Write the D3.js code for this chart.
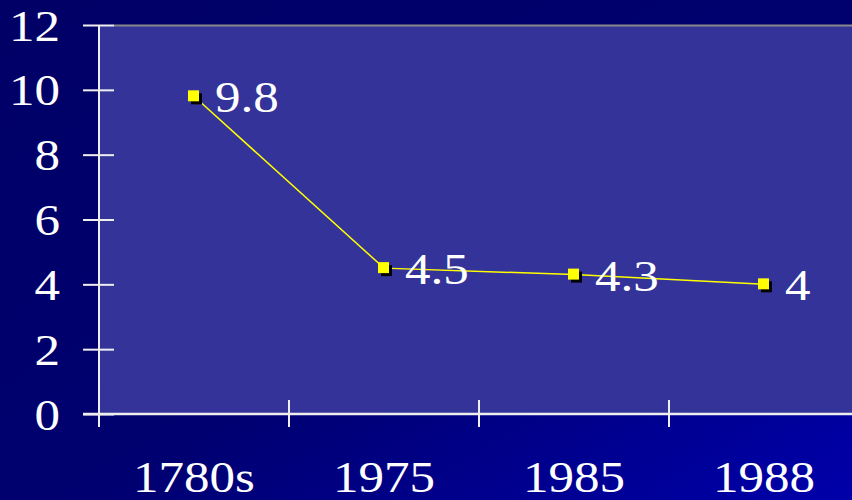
<!DOCTYPE html>
<html>
<head>
<meta charset="utf-8">
<script src="https://cdn.jsdelivr.net/npm/d3@7"></script>
<style>
  body { margin: 0; background: #000066; }
  svg { display: block; }
  text { font-family: "Liberation Serif", "Times New Roman", serif; fill: #fff; }
</style>
</head>
<body>
<script>
// chart data
const categories = ['1780s', '1975', '1985', '1988']
const values = [9.8, 4.5, 4.3, 4]
const valueLabels = ['9.8', '4.5', '4.3', '4']
const yTicks = [0, 2, 4, 6, 8, 10, 12]

const width = 852
const height = 500
const margin = { top: 25, right: -7, bottom: 86, left: 99 }
const innerW = width - margin.left - margin.right
const innerH = height - margin.top - margin.bottom
const stretch = 1.16 // text in the original is a bit wide

const svg = d3.select('body')
  .append('svg')
  .attr('width', width)
  .attr('height', height)

const defs = svg.append('defs')
const grad = defs.append('linearGradient')
  .attr('id', 'bg')
  .attr('x1', '0').attr('y1', '0')
  .attr('x2', '1').attr('y2', '1')
grad.append('stop').attr('offset', '0').attr('stop-color', '#000066')
grad.append('stop').attr('offset', '0.55').attr('stop-color', '#000070')
grad.append('stop').attr('offset', '1').attr('stop-color', '#0000aa')

svg.append('rect')
  .attr('width', width)
  .attr('height', height)
  .attr('fill', 'url(#bg)')

const chart = svg.append('g')
  .attr('transform', `translate(${margin.left}, ${margin.top})`)

const x = d3.scaleBand()
  .domain(categories)
  .range([0, innerW])

const y = d3.scaleLinear()
  .domain([0, 12])
  .range([innerH, 0])

// plot area
chart.append('rect')
  .attr('width', innerW)
  .attr('height', innerH)
  .attr('fill', '#333399')

chart.append('line')
  .attr('x1', 15).attr('x2', innerW)
  .attr('y1', 0.5).attr('y2', 0.5)
  .attr('stroke', '#888888')
  .attr('stroke-width', 2)

// y axis
const yAxis = chart.append('g')
  .call(d3.axisLeft(y).tickValues(yTicks).tickSize(16).tickPadding(22))
yAxis.select('.domain').remove()
yAxis.append('line')
  .attr('x1', 0).attr('x2', 0)
  .attr('y1', 0).attr('y2', innerH + 13)
yAxis.selectAll('line')
  .attr('stroke', '#eeeeee')
  .attr('stroke-width', 2)
yAxis.selectAll('.tick line').attr('x2', 15).attr('x1', -16)
yAxis.selectAll('.tick text')
  .attr('font-size', 44)
  .attr('fill', '#fff')
  .attr('x', null)
  .attr('transform', `translate(-39, 1) scale(${stretch}, 1)`)
  .style('font-family', '"Liberation Serif", serif')

// x axis
const xAxis = chart.append('g')
  .attr('transform', `translate(0, ${innerH})`)
xAxis.append('line')
  .attr('x1', -16).attr('x2', innerW)
  .attr('stroke', '#eeeeee')
  .attr('stroke-width', 2.5)
xAxis.selectAll('line.tick')
  .data(categories.slice(1))
  .join('line')
  .attr('class', 'tick')
  .attr('x1', d => x(d)).attr('x2', d => x(d))
  .attr('y1', -14).attr('y2', 13)
  .attr('stroke', '#eeeeee')
  .attr('stroke-width', 2)
xAxis.selectAll('text')
  .data(categories)
  .join('text')
  .attr('transform', d => `translate(${x(d) + x.bandwidth() / 2}, 78) scale(${stretch}, 1)`)
  .attr('text-anchor', 'middle')
  .attr('font-size', 44)
  .text(d => d)

// series
const pts = categories.map((c, i) => ({ c, v: values[i], label: valueLabels[i] }))
const line = d3.line()
  .x(d => x(d.c) + x.bandwidth() / 2)
  .y(d => y(d.v))

chart.append('path')
  .datum(pts)
  .attr('d', line)
  .attr('fill', 'none')
  .attr('stroke', '#ffff00')
  .attr('stroke-width', 1.5)

const marks = chart.selectAll('g.pt')
  .data(pts)
  .join('g')
  .attr('class', 'pt')
  .attr('transform', d => `translate(${x(d.c) + x.bandwidth() / 2}, ${y(d.v)})`)

marks.append('rect')
  .attr('x', -3).attr('y', -3)
  .attr('width', 11).attr('height', 11)
  .attr('fill', '#000')
marks.append('rect')
  .attr('x', -6).attr('y', -6)
  .attr('width', 11).attr('height', 11)
  .attr('fill', '#ffff00')

marks.append('text')
  .attr('transform', `translate(21, 16) scale(${stretch}, 1)`)
  .attr('font-size', 44)
  .text(d => d.label)
</script>
</body>
</html>
